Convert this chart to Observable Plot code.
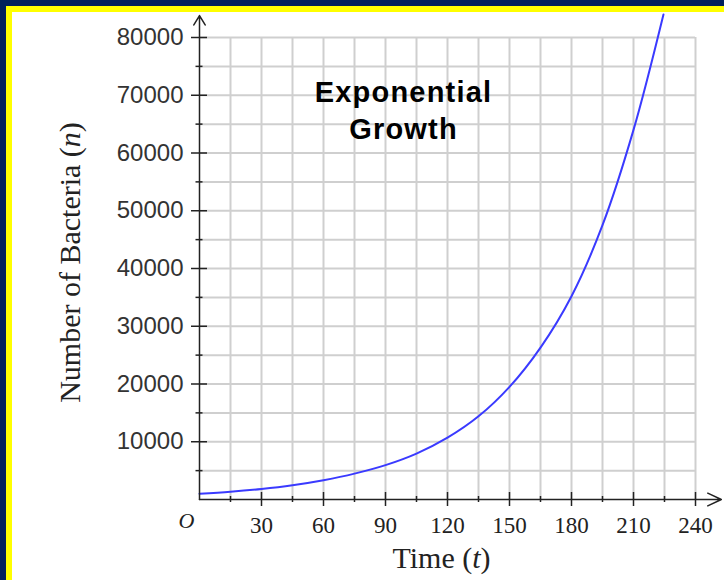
<!DOCTYPE html>
<html><head><meta charset="utf-8">
<script src="https://cdn.jsdelivr.net/npm/d3@7"></script>
<script src="https://cdn.jsdelivr.net/npm/@observablehq/plot@0.6"></script>
<style>
html,body{margin:0;padding:0;background:#fff;}
#wrap{position:relative;width:724px;height:580px;overflow:hidden;background:#fff;}
#wrap svg{position:absolute;left:0;top:0;}
.bar{position:absolute;}
</style></head><body>
<div id="wrap"></div>
<script>
// Data
const times    = [0, 15, 30, 45, 60, 75, 90, 105, 120, 135, 150, 165, 180, 195, 210, 224.5];
const bacteria = [1000, 1350, 1830, 2480, 3350, 4480, 5950, 7950, 10700, 14400, 19500, 26300, 35200, 47500, 64000, 84000];

const gridT  = [15, 30, 45, 60, 75, 90, 105, 120, 135, 150, 165, 180, 195, 210, 225, 240];
const gridN  = [5000, 10000, 15000, 20000, 25000, 30000, 35000, 40000, 45000, 50000, 55000, 60000, 65000, 70000, 75000, 80000];
const majorT = [30, 60, 90, 120, 150, 180, 210, 240];
const minorT = [15, 45, 75, 105, 135, 165, 195, 225];
const majorN = [10000, 20000, 30000, 40000, 50000, 60000, 70000, 80000];
const minorN = [5000, 15000, 25000, 35000, 45000, 55000, 65000, 75000];
const xTickLabels = ["30", "60", "90", "120", "150", "180", "210", "240"];
const yTickLabels = ["10000", "20000", "30000", "40000", "50000", "60000", "70000", "80000"];
const axisEndT = [252.5];
const axisEndN = [83800];

const title = "Exponential\nGrowth";
const xTitle = "Time (t)";
const yTitle = "Number of Bacteria (n)";
const originLabel = "O";

const data = times.map((t, i) => ({t, n: bacteria[i]}));
const ink = "#222";
const serif = "Liberation Serif, Times New Roman, serif";
const sans = "Liberation Sans, Arial, sans-serif";

const chart = Plot.plot({
  width: 724, height: 580,
  marginLeft: 199, marginRight: 29, marginTop: 37, marginBottom: 81,
  x: {domain: [0, 240], axis: null},
  y: {domain: [0, 80000], axis: null},
  style: {background: "transparent", overflow: "visible"},
  marks: [
    Plot.ruleX(gridT, {x: d => d, stroke: "#cfcfcf", strokeWidth: 2}),
    Plot.ruleY(gridN, {y: d => d, stroke: "#cfcfcf", strokeWidth: 2}),
    Plot.line(data, {x: "t", y: "n", stroke: "#3a3aff", strokeWidth: 2, curve: "catmull-rom"}),
    Plot.arrow(axisEndT, {x1: 0, y1: 0, x2: d => d, y2: 0, stroke: ink, strokeWidth: 1.5, headLength: 15, headAngle: 50}),
    Plot.arrow(axisEndN, {x1: 0, y1: 0, x2: 0, y2: d => d, stroke: ink, strokeWidth: 1.5, headLength: 11, headAngle: 62}),
    Plot.ruleX(majorT, {x: d => d, y1: 0, y2: 0, insetTop: -7, insetBottom: -7, stroke: ink, strokeWidth: 1.5}),
    Plot.ruleX(minorT, {x: d => d, y1: 0, y2: 0, insetTop: -3, insetBottom: -3, stroke: ink, strokeWidth: 1.5}),
    Plot.ruleY(majorN, {y: d => d, x1: 0, x2: 0, insetLeft: -8, insetRight: -8, stroke: ink, strokeWidth: 1.5}),
    Plot.ruleY(minorN, {y: d => d, x1: 0, x2: 0, insetLeft: -3.5, insetRight: -3.5, stroke: ink, strokeWidth: 1.5}),
    Plot.text(majorN, {x: 0, y: d => d, text: (d, i) => yTickLabels[i], textAnchor: "end", lineAnchor: "middle", dx: -16,
      fontSize: 24, fontFamily: sans, fill: "#333"}),
    Plot.text(majorT, {x: d => d, y: 0, text: (d, i) => xTickLabels[i], lineAnchor: "middle", dy: 26,
      fontSize: 23, fontFamily: serif, fill: ink}),
    Plot.text([originLabel], {x: 0, y: 0, text: d => d, dx: -13, dy: 21, fontStyle: "italic", lineAnchor: "middle",
      fontSize: 22, fontFamily: serif, fill: ink}),
    Plot.text([xTitle], {frameAnchor: "bottom", text: d => d, textAnchor: "middle", lineAnchor: "middle", dx: -6, dy: 59,
      fontSize: 30, fontFamily: serif, fill: ink}),
    Plot.text([yTitle], {frameAnchor: "left", text: d => d, rotate: -90, textAnchor: "middle", lineAnchor: "middle", dx: -129, dy: -6,
      fontSize: 30, fontFamily: serif, fill: ink}),
    Plot.text([title], {frameAnchor: "top", text: d => d, textAnchor: "middle", lineAnchor: "middle", dx: -44, dy: 71, lineHeight: 1.28,
      fontSize: 29, fontWeight: "bold", fontFamily: sans, fill: "#000"})
  ]
});

const wrap = document.getElementById("wrap");
wrap.appendChild(chart);

// italic variable letters inside the axis titles
function italicize(str, letter) {
  d3.select(chart).selectAll("text").filter(function() { return this.textContent === str; }).each(function() {
    const sel = d3.select(this);
    const k = str.lastIndexOf(letter);
    sel.text(null);
    sel.append("tspan").text(str.slice(0, k));
    sel.append("tspan").attr("font-style", "italic").text(letter);
    sel.append("tspan").text(str.slice(k + 1));
  });
}
italicize(xTitle, "t");
italicize(yTitle, "n");
d3.select(chart).selectAll("text").filter(function() { return this.textContent.startsWith("Exponential"); })
  .style("letter-spacing", "1.2px");

// frame border (navy + yellow) on top and left edges
function bar(l, t, w, h, c) {
  const d = document.createElement("div");
  d.className = "bar";
  Object.assign(d.style, {left: l + "px", top: t + "px", width: w + "px", height: h + "px", background: c});
  wrap.appendChild(d);
}
bar(0, 0, 724, 6, "#00205b");
bar(0, 0, 6, 580, "#00205b");
bar(6, 6, 718, 6, "#ffff00");
bar(6, 6, 6, 574, "#ffff00");
</script>
</body></html>
